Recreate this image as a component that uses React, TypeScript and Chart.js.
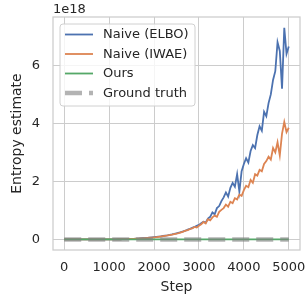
import React, { useEffect, useRef } from "react";
import { Chart, registerables } from "chart.js";

Chart.register(...registerables);

const steps = [
  0, 50, 100, 150, 200, 250, 300, 350, 400, 450, 500, 550, 600, 650, 700, 750, 800, 850, 900, 950,
  1000, 1050, 1100, 1150, 1200, 1250, 1300, 1350, 1400, 1450, 1500, 1550, 1600, 1650, 1700, 1750,
  1800, 1850, 1900, 1950, 2000, 2050, 2100, 2150, 2200, 2250, 2300, 2350, 2400, 2450, 2500, 2550,
  2600, 2650, 2700, 2750, 2800, 2850, 2900, 2950, 3000, 3050, 3100, 3150, 3200, 3250, 3300, 3350,
  3400, 3450, 3500, 3550, 3600, 3650, 3700, 3750, 3800, 3850, 3900, 3950, 4000, 4050, 4100, 4150,
  4200, 4250, 4300, 4350, 4400, 4450, 4500, 4550, 4600, 4650, 4700, 4750, 4800, 4850, 4900, 4950, 5000,
];

// values in units of 1e18
const elboValues = [
  0, 0, 0, 0, 0, 0, 0, 0, 0, 0, 0, 0, 0, 0, 0, 0, 0, 0, 0, 0, 0,
  0.002, 0.003, 0.004, 0.005, 0.006, 0.008, 0.010, 0.012, 0.015, 0.018,
  0.022, 0.026, 0.030, 0.035, 0.040, 0.046, 0.052, 0.060, 0.068, 0.076,
  0.085, 0.095, 0.105, 0.118, 0.130, 0.142, 0.156, 0.172, 0.190, 0.210,
  0.230, 0.255, 0.280, 0.300, 0.335, 0.365, 0.400, 0.430, 0.470, 0.500,
  0.560, 0.610, 0.580, 0.720, 0.780, 0.930, 0.870, 1.080, 1.150, 1.320,
  1.450, 1.620, 1.480, 1.780, 1.950, 1.820, 2.250, 1.650, 2.350, 2.600,
  2.800, 2.650, 3.050, 3.250, 3.150, 3.600, 3.900, 3.750, 4.400, 4.250,
  4.700, 5.000, 5.500, 5.800, 6.800, 6.500, 5.200, 7.300, 6.400, 6.650,
];

const iwaeValues = [
  0, 0, 0, 0, 0, 0, 0, 0, 0, 0, 0, 0, 0, 0, 0, 0, 0, 0, 0, 0, 0,
  0.002, 0.003, 0.004, 0.005, 0.006, 0.008, 0.010, 0.012, 0.014, 0.017,
  0.021, 0.025, 0.029, 0.034, 0.039, 0.044, 0.050, 0.057, 0.064, 0.072,
  0.080, 0.090, 0.100, 0.112, 0.124, 0.136, 0.150, 0.165, 0.182, 0.200,
  0.220, 0.245, 0.270, 0.300, 0.320, 0.360, 0.380, 0.430, 0.410, 0.470,
  0.520, 0.600, 0.550, 0.700, 0.660, 0.760, 0.820, 0.780, 0.950, 1.020,
  1.080, 1.200, 1.130, 1.300, 1.250, 1.420, 1.380, 1.550, 1.500, 1.700,
  1.850, 1.800, 2.050, 1.950, 2.250, 2.200, 2.400, 2.350, 2.600, 2.700,
  2.850, 2.750, 3.150, 3.000, 3.350, 2.900, 3.650, 4.050, 3.700, 3.850,
];

const oursSteps = [0, 5000];
const oursValues = [0, 0];
const truthSteps = [0, 5000];
const truthValues = [0, 0];

const xTicks = [0, 1000, 2000, 3000, 4000, 5000];
const yTicks = [0, 2, 4, 6];
const seriesLabels = ["Naive (ELBO)", "Naive (IWAE)", "Ours", "Ground truth"];
const scaleLabel = "1e18";

const FONT = "'DejaVu Sans', sans-serif";
const TEXT = "#262626";
const GRID = "#cccccc";
const COLORS = ["#4c72b0", "#dd8452", "#55a868", "rgba(128,128,128,0.6)"];

const toPoints = (xs: number[], ys: number[]) => xs.map((x, i) => ({ x, y: ys[i] }));

const framePlugin = {
  id: "frame",
  afterDatasetsDraw(chart: any) {
    const { ctx, chartArea: a } = chart;
    ctx.save();
    ctx.strokeStyle = GRID;
    ctx.lineWidth = 1.25;
    ctx.strokeRect(a.left, a.top, a.right - a.left, a.bottom - a.top);
    ctx.fillStyle = TEXT;
    ctx.font = `13px ${FONT}`;
    ctx.textAlign = "left";
    ctx.textBaseline = "alphabetic";
    ctx.fillText(scaleLabel, a.left, a.top - 4);
    const bx = 60, by = 24, bw = 135, bh = 82, r = 3;
    ctx.beginPath();
    ctx.moveTo(bx + r, by);
    ctx.lineTo(bx + bw - r, by);
    ctx.quadraticCurveTo(bx + bw, by, bx + bw, by + r);
    ctx.lineTo(bx + bw, by + bh - r);
    ctx.quadraticCurveTo(bx + bw, by + bh, bx + bw - r, by + bh);
    ctx.lineTo(bx + r, by + bh);
    ctx.quadraticCurveTo(bx, by + bh, bx, by + bh - r);
    ctx.lineTo(bx, by + r);
    ctx.quadraticCurveTo(bx, by, bx + r, by);
    ctx.closePath();
    ctx.fillStyle = "rgba(255,255,255,0.8)";
    ctx.fill();
    ctx.strokeStyle = "#d0d0d0";
    ctx.lineWidth = 1;
    ctx.stroke();
    const ds = chart.data.datasets;
    const rowY = [34.5, 54, 73.5, 93];
    ds.forEach((d: any, i: number) => {
      const y = rowY[i];
      ctx.beginPath();
      ctx.strokeStyle = d.borderColor;
      ctx.lineWidth = d.borderWidth;
      ctx.setLineDash(d.borderDash || []);
      ctx.moveTo(65, y);
      ctx.lineTo(93, y);
      ctx.stroke();
      ctx.setLineDash([]);
      ctx.fillStyle = TEXT;
      ctx.font = `13px ${FONT}`;
      ctx.textBaseline = "middle";
      ctx.fillText(d.label, 103, y + 0.5);
    });
    ctx.restore();
  },
};

export default function App() {
  const ref = useRef<HTMLCanvasElement>(null);
  useEffect(() => {
    if (!ref.current) return;
    const chart = new Chart(ref.current, {
      type: "line",
      data: {
        datasets: [
          { label: seriesLabels[0], data: toPoints(steps, elboValues), borderColor: COLORS[0], borderWidth: 1.8, order: 3 },
          { label: seriesLabels[1], data: toPoints(steps, iwaeValues), borderColor: COLORS[1], borderWidth: 1.8, order: 2 },
          { label: seriesLabels[2], data: toPoints(oursSteps, oursValues), borderColor: COLORS[2], borderWidth: 1.8, order: 1 },
          {
            label: seriesLabels[3],
            data: toPoints(truthSteps, truthValues),
            borderColor: COLORS[3],
            borderWidth: 4.5,
            borderDash: [17, 7],
            order: 0,
          },
        ] as any,
      },
      options: {
        animation: false,
        responsive: false,
        devicePixelRatio: 1,
        layout: { padding: { top: 17, right: 7, left: 0, bottom: 0 } },
        plugins: { legend: { display: false }, tooltip: { enabled: false } },
        elements: { point: { radius: 0 }, line: { tension: 0, fill: false } },
        scales: {
          x: {
            type: "linear",
            min: -250,
            max: 5250,
            afterBuildTicks: (s: any) => {
              s.ticks = xTicks.map((v) => ({ value: v }));
            },
            afterFit: (s: any) => {
              s.height = 47;
              s.paddingLeft = 0;
              s.paddingRight = 0;
            },
            grid: { color: GRID, lineWidth: 1, drawTicks: false },
            border: { display: false },
            ticks: {
              padding: 10,
              color: TEXT,
              font: { family: FONT, size: 13 },
              maxRotation: 0,
              autoSkip: false,
              callback: (v: any) => String(v),
            },
            title: {
              display: true,
              text: "Step",
              color: TEXT,
              font: { family: FONT, size: 14 },
              padding: { top: 0, bottom: 1 },
            },
          },
          y: {
            type: "linear",
            min: -0.365,
            max: 7.67,
            afterBuildTicks: (s: any) => {
              s.ticks = yTicks.map((v) => ({ value: v }));
            },
            afterFit: (s: any) => {
              s.width = 53;
              s.paddingTop = 0;
              s.paddingBottom = 0;
            },
            grid: { color: GRID, lineWidth: 1, drawTicks: false },
            border: { display: false },
            ticks: {
              padding: 13,
              color: TEXT,
              font: { family: FONT, size: 13 },
              callback: (v: any) => String(v),
            },
            title: {
              display: true,
              text: "Entropy estimate",
              color: TEXT,
              font: { family: FONT, size: 14 },
              padding: { top: 9, bottom: 0 },
            },
          },
        },
      },
      plugins: [framePlugin],
    });
    return () => chart.destroy();
  }, []);
  return (
    <div style={{ position: "fixed", left: 0, top: 0, width: 307, height: 297, background: "#fff" }}>
      <canvas ref={ref} width={307} height={297} style={{ width: 307, height: 297 }} />
    </div>
  );
}
